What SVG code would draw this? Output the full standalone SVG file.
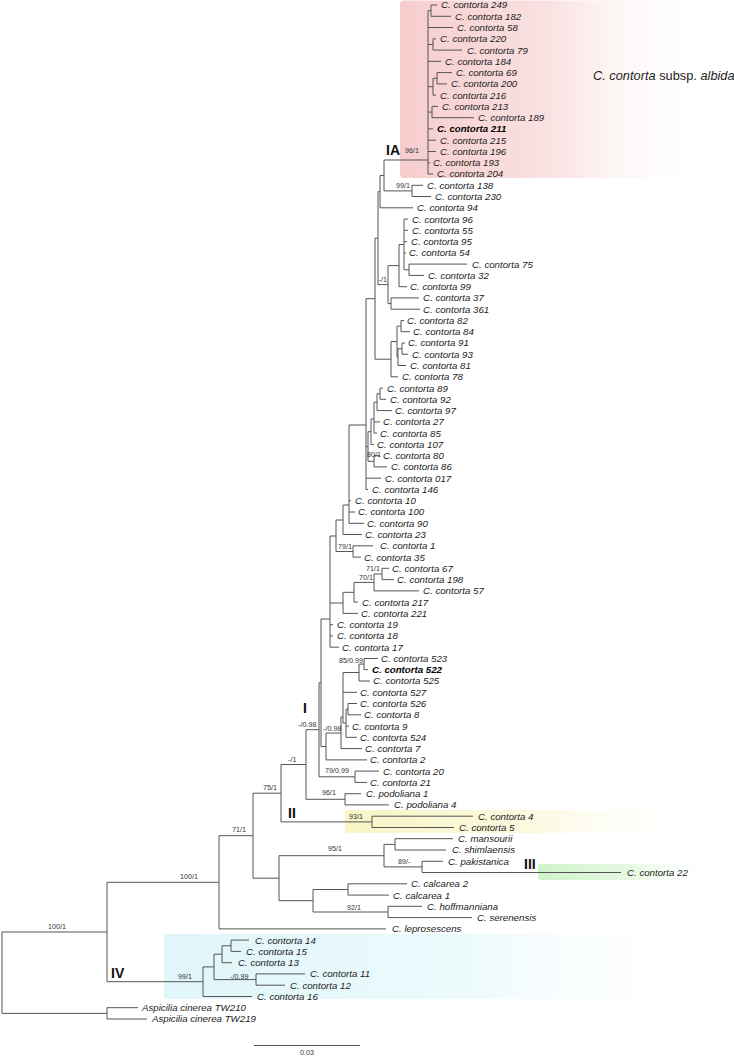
<svg xmlns="http://www.w3.org/2000/svg" width="734" height="1056" viewBox="0 0 734 1056">
<defs>
<linearGradient id="gPink" x1="0" y1="0" x2="1" y2="0"><stop offset="0" stop-color="#f6cdcd"/><stop offset="0.5" stop-color="#fae2e2"/><stop offset="1" stop-color="#ffffff" stop-opacity="0"/></linearGradient>
<linearGradient id="gYellow" x1="0" y1="0" x2="1" y2="0"><stop offset="0" stop-color="#f8f5c6"/><stop offset="0.5" stop-color="#fbf9df"/><stop offset="1" stop-color="#ffffff" stop-opacity="0"/></linearGradient>
<linearGradient id="gGreen" x1="0" y1="0" x2="1" y2="0"><stop offset="0" stop-color="#cff3ca"/><stop offset="0.5" stop-color="#e4f8e1"/><stop offset="1" stop-color="#ffffff" stop-opacity="0"/></linearGradient>
<linearGradient id="gCyan" x1="0" y1="0" x2="1" y2="0"><stop offset="0" stop-color="#e0f6fa"/><stop offset="0.55" stop-color="#ecfafc"/><stop offset="1" stop-color="#ffffff" stop-opacity="0"/></linearGradient>
<style>
.t{font-family:"Liberation Sans",Arial,sans-serif;font-style:italic;font-size:9.7px;fill:#222}
.b{font-weight:bold;fill:#000}
.s{font-family:"Liberation Sans",Arial,sans-serif;font-size:7.2px;fill:#333}
.c{font-family:"Liberation Sans",Arial,sans-serif;font-weight:bold;font-size:14px;fill:#111}
.br{fill:none;stroke:#555;stroke-width:1}
</style>
</defs>
<rect width="734" height="1056" fill="#fff"/>
<g id="highlights">
<rect id="box-IA" x="400" y="0.5" width="305" height="177.5" rx="4" fill="url(#gPink)"/>
<rect id="box-II" x="345" y="810" width="365" height="23" rx="3" fill="url(#gYellow)"/>
<rect id="box-III" x="538" y="864" width="175" height="16" rx="3" fill="url(#gGreen)"/>
<rect id="box-IV" x="164" y="934" width="546" height="65" rx="3" fill="url(#gCyan)"/>
</g>
<g id="connectors" class="br">
<path d="M2 932V1013.4M2 932H107M2 1013.4H107"/>
<path d="M107 1007.7V1019M107 1007.7H138M107 1019H147"/>
<path d="M107 882.3V981.7M107 882.3H219M107 981.7H203"/>
<path d="M203 966.9V996.5M203 966.9H214M203 996.5H252"/>
<path d="M214 954.2V979.6M214 954.2H222M214 979.6H256"/>
<path d="M222 945.8V962.7M222 945.8H231M222 962.7H232"/>
<path d="M231 940.1V951.4M231 940.1H249M231 951.4H241"/>
<path d="M256 973.9V985.2M256 973.9H305M256 985.2H285"/>
<path d="M219 835.7V928.9M219 835.7H253M219 928.9H386"/>
<path d="M253 793.2V878.2M253 793.2H281M253 878.2H279"/>
<path d="M279 855.7V900.7M279 855.7H384M279 900.7H313"/>
<path d="M313 889.5V912M313 889.5H348M313 912H388"/>
<path d="M348 883.8V895.1M348 883.8H407M348 895.1H389"/>
<path d="M388 906.3V917.6M388 906.3H422M388 917.6H472"/>
<path d="M384 844.4V866.9M384 844.4H395M384 866.9H422"/>
<path d="M395 838.7V850M395 838.7H453M395 850H446"/>
<path d="M422 861.3V872.5M422 861.3H443M422 872.5H621"/>
<path d="M281 764.5V821.9M281 764.5H306M281 821.9H372"/>
<path d="M372 816.2V827.5M372 816.2H473M372 827.5H454"/>
<path d="M306 729.7V799.3M306 729.7H319M306 799.3H345"/>
<path d="M345 793.7V804.9M345 793.7H361M345 804.9H389"/>
<path d="M319 682.7V776.8M319 682.7H321M319 776.8H355"/>
<path d="M355 771.1V782.4M355 771.1H379M355 782.4H367"/>
<path d="M321 619V746.5M321 619H330M321 746.5H326"/>
<path d="M326 733V759.9M326 733H341M326 759.9H367"/>
<path d="M341 717V748.6M341 717H343M341 748.6H362"/>
<path d="M343 672.5V723M343 672.5H359M343 692.3H357M343 723H346"/>
<path d="M346 709.2V737.3M346 709.2H348M346 726.1H349M346 737.3H357"/>
<path d="M348 703.5V714.8M348 703.5H357M348 714.8H361"/>
<path d="M359 664.1V681M359 664.1H364M359 681H370"/>
<path d="M364 658.5V669.7M364 658.5H378M364 669.7H368"/>
<path d="M330 536V647.2M330 536H336M330 603H343M330 624.7H333M330 635.9H333M330 647.2H339"/>
<path d="M343 592.3V613.4M343 592.3H354M343 613.4H358"/>
<path d="M354 582.4V602.1M354 582.4H374M354 602.1H358"/>
<path d="M374 574V590.9M374 574H382M374 590.9H419"/>
<path d="M382 568.3V579.6M382 568.3H389M382 579.6H394"/>
<path d="M336 520V551.5M336 520H343M336 551.5H353"/>
<path d="M353 545.8V557.1M353 545.8H373M353 557.1H361"/>
<path d="M343 505V534.5M343 505H349M343 534.5H362"/>
<path d="M349 425V523.3M349 425H366M349 500.7H351M349 512H355M349 523.3H364"/>
<path d="M366 298.7V489.5M366 298.7H375M366 446.5H368M366 478.2H381M366 489.5H368"/>
<path d="M368 431.7V461.3M368 431.7H371M368 461.3H374"/>
<path d="M371 419V444.4M371 419H374M371 444.4H374"/>
<path d="M374 402.2V433.1M374 402.2H377M374 421.9H380M374 433.1H377"/>
<path d="M377 393.7V410.6M377 393.7H380M377 410.6H392"/>
<path d="M380 388.1V399.3M380 388.1H383M380 399.3H386"/>
<path d="M374 455.7V466.9M374 455.7H380M374 466.9H387"/>
<path d="M375 238.2V359.2M375 238.2H378M375 359.2H391"/>
<path d="M391 341.6V376.8M391 341.6H397M391 376.8H398"/>
<path d="M397 326.1V357.1M397 326.1H401M397 357.1H398"/>
<path d="M401 320.5V331.7M401 320.5H404M401 331.7H410"/>
<path d="M398 348.7V365.5M398 348.7H402M398 365.5H406"/>
<path d="M402 343V354.3M402 343H405M402 354.3H408"/>
<path d="M378 191.7V284.6M378 191.7H380M378 284.6H388"/>
<path d="M388 265.6V303.6M388 265.6H399M388 303.6H391"/>
<path d="M391 297.9V309.2M391 297.9H419M391 309.2H420"/>
<path d="M399 244.5V286.7M399 244.5H404M399 286.7H407"/>
<path d="M404 219.1V269.8M404 219.1H408M404 230.3H408M404 241.6H407M404 252.9H406M404 269.8H409"/>
<path d="M409 264.1V275.4M409 264.1H467M409 275.4H424"/>
<path d="M380 175.5V207.8M380 175.5H384M380 207.8H413"/>
<path d="M384 160V190.9M384 160H428M384 190.9H412"/>
<path d="M412 185.3V196.5M412 185.3H423M412 196.5H431"/>
<path d="M428 10.7V174M428 10.7H431M428 27.5H453M428 44.5H433M428 61.3H441M428 86.7H433M428 112.1H432M428 128.9H433M428 140.2H436M428 151.5H436M428 162.7H430M428 174H433"/>
<path d="M431 5V16.3M431 5H437M431 16.3H451"/>
<path d="M433 38.8V50.1M433 38.8H436M433 50.1H462"/>
<path d="M433 78.3V95.1M433 78.3H437M433 95.1H436"/>
<path d="M437 72.6V83.9M437 72.6H452M437 83.9H447"/>
<path d="M432 106.4V117.7M432 106.4H438M432 117.7H474"/>
<path id="scalebar" d="M254 1045.5H360"/>
</g>
<g id="leaves">
<g id="n249"><text class="t" x="441" y="8.4">C. contorta 249</text></g>
<g id="n182"><text class="t" x="455" y="19.7">C. contorta 182</text></g>
<g id="n58"><text class="t" x="457" y="30.9">C. contorta 58</text></g>
<g id="n220"><text class="t" x="440" y="42.2">C. contorta 220</text></g>
<g id="n79"><text class="t" x="467" y="53.5">C. contorta 79</text></g>
<g id="n184"><text class="t" x="445" y="64.7">C. contorta 184</text></g>
<g id="n69"><text class="t" x="456" y="76">C. contorta 69</text></g>
<g id="n200"><text class="t" x="451" y="87.3">C. contorta 200</text></g>
<g id="n216"><text class="t" x="440" y="98.5">C. contorta 216</text></g>
<g id="n213"><text class="t" x="442" y="109.8">C. contorta 213</text></g>
<g id="n189"><text class="t" x="478" y="121.1">C. contorta 189</text></g>
<g id="n211"><text class="t b" x="437" y="132.3">C. contorta 211</text></g>
<g id="n215"><text class="t" x="440" y="143.6">C. contorta 215</text></g>
<g id="n196"><text class="t" x="440" y="154.9">C. contorta 196</text></g>
<g id="n193"><text class="t" x="433" y="166.1">C. contorta 193</text></g>
<g id="n204"><text class="t" x="437" y="177.4">C. contorta 204</text></g>
<g id="n138"><text class="t" x="427" y="188.7">C. contorta 138</text></g>
<g id="n230"><text class="t" x="435" y="199.9">C. contorta 230</text></g>
<g id="n94"><text class="t" x="417" y="211.2">C. contorta 94</text></g>
<g id="n96"><text class="t" x="412" y="222.5">C. contorta 96</text></g>
<g id="n55"><text class="t" x="412" y="233.7">C. contorta 55</text></g>
<g id="n95"><text class="t" x="411" y="245">C. contorta 95</text></g>
<g id="n54"><text class="t" x="409" y="256.3">C. contorta 54</text></g>
<g id="n75"><text class="t" x="472" y="267.5">C. contorta 75</text></g>
<g id="n32"><text class="t" x="428" y="278.8">C. contorta 32</text></g>
<g id="n99"><text class="t" x="410" y="290.1">C. contorta 99</text></g>
<g id="n37"><text class="t" x="423" y="301.3">C. contorta 37</text></g>
<g id="n361"><text class="t" x="423" y="312.6">C. contorta 361</text></g>
<g id="n82"><text class="t" x="407" y="323.9">C. contorta 82</text></g>
<g id="n84"><text class="t" x="413" y="335.1">C. contorta 84</text></g>
<g id="n91"><text class="t" x="408" y="346.4">C. contorta 91</text></g>
<g id="n93"><text class="t" x="412" y="357.7">C. contorta 93</text></g>
<g id="n81"><text class="t" x="410" y="368.9">C. contorta 81</text></g>
<g id="n78"><text class="t" x="402" y="380.2">C. contorta 78</text></g>
<g id="n89"><text class="t" x="387" y="391.5">C. contorta 89</text></g>
<g id="n92"><text class="t" x="390" y="402.7">C. contorta 92</text></g>
<g id="n97"><text class="t" x="395" y="414">C. contorta 97</text></g>
<g id="n27"><text class="t" x="383" y="425.3">C. contorta 27</text></g>
<g id="n85"><text class="t" x="380" y="436.5">C. contorta 85</text></g>
<g id="n107"><text class="t" x="377" y="447.8">C. contorta 107</text></g>
<g id="n80"><text class="t" x="383" y="459.1">C. contorta 80</text></g>
<g id="n86"><text class="t" x="391" y="470.3">C. contorta 86</text></g>
<g id="n017"><text class="t" x="385" y="481.6">C. contorta 017</text></g>
<g id="n146"><text class="t" x="372" y="492.9">C. contorta 146</text></g>
<g id="n10"><text class="t" x="355" y="504.1">C. contorta 10</text></g>
<g id="n100"><text class="t" x="358" y="515.4">C. contorta 100</text></g>
<g id="n90"><text class="t" x="367" y="526.7">C. contorta 90</text></g>
<g id="n23"><text class="t" x="365" y="537.9">C. contorta 23</text></g>
<g id="n1"><text class="t" x="380" y="549.2">C. contorta 1</text></g>
<g id="n35"><text class="t" x="364" y="560.5">C. contorta 35</text></g>
<g id="n67"><text class="t" x="392" y="571.7">C. contorta 67</text></g>
<g id="n198"><text class="t" x="397" y="583">C. contorta 198</text></g>
<g id="n57"><text class="t" x="423" y="594.3">C. contorta 57</text></g>
<g id="n217"><text class="t" x="362" y="605.5">C. contorta 217</text></g>
<g id="n221"><text class="t" x="361" y="616.8">C. contorta 221</text></g>
<g id="n19"><text class="t" x="337" y="628.1">C. contorta 19</text></g>
<g id="n18"><text class="t" x="337" y="639.3">C. contorta 18</text></g>
<g id="n17"><text class="t" x="342" y="650.6">C. contorta 17</text></g>
<g id="n523"><text class="t" x="381" y="661.9">C. contorta 523</text></g>
<g id="n522"><text class="t b" x="372" y="673.1">C. contorta 522</text></g>
<g id="n525"><text class="t" x="373" y="684.4">C. contorta 525</text></g>
<g id="n527"><text class="t" x="360" y="695.7">C. contorta 527</text></g>
<g id="n526"><text class="t" x="360" y="706.9">C. contorta 526</text></g>
<g id="n8"><text class="t" x="364" y="718.2">C. contorta 8</text></g>
<g id="n9"><text class="t" x="352" y="729.5">C. contorta 9</text></g>
<g id="n524"><text class="t" x="360" y="740.7">C. contorta 524</text></g>
<g id="n7"><text class="t" x="365" y="752">C. contorta 7</text></g>
<g id="n2"><text class="t" x="370" y="763.3">C. contorta 2</text></g>
<g id="n20"><text class="t" x="383" y="774.5">C. contorta 20</text></g>
<g id="n21"><text class="t" x="370" y="785.8">C. contorta 21</text></g>
<g id="pod1"><text class="t" x="366" y="797.1">C. podoliana 1</text></g>
<g id="pod4"><text class="t" x="394" y="808.3">C. podoliana 4</text></g>
<g id="n4"><text class="t" x="478" y="819.6">C. contorta 4</text></g>
<g id="n5"><text class="t" x="459" y="830.9">C. contorta 5</text></g>
<g id="mans"><text class="t" x="458" y="842.1">C. mansourii</text></g>
<g id="shim"><text class="t" x="452" y="853.4">C. shimlaensis</text></g>
<g id="paki"><text class="t" x="448" y="864.7">C. pakistanica</text></g>
<g id="n22"><text class="t" x="627" y="875.9">C. contorta 22</text></g>
<g id="calc2"><text class="t" x="411" y="887.2">C. calcarea 2</text></g>
<g id="calc1"><text class="t" x="393" y="898.5">C. calcarea 1</text></g>
<g id="hoff"><text class="t" x="427" y="909.7">C. hoffmanniana</text></g>
<g id="sere"><text class="t" x="477" y="921">C. serenensis</text></g>
<g id="lepr"><text class="t" x="392" y="932.3">C. leprosescens</text></g>
<g id="n14"><text class="t" x="255" y="943.5">C. contorta 14</text></g>
<g id="n15"><text class="t" x="246" y="954.8">C. contorta 15</text></g>
<g id="n13"><text class="t" x="238" y="966.1">C. contorta 13</text></g>
<g id="n11"><text class="t" x="310" y="977.3">C. contorta 11</text></g>
<g id="n12"><text class="t" x="290" y="988.6">C. contorta 12</text></g>
<g id="n16"><text class="t" x="257" y="999.9">C. contorta 16</text></g>
<g id="tw210"><text class="t" x="142" y="1011.1">Aspicilia cinerea TW210</text></g>
<g id="tw219"><text class="t" x="152" y="1022.4">Aspicilia cinerea TW219</text></g>
</g>
<g id="supports">
<text class="s" x="405" y="153">96/1</text>
<text class="s" x="410" y="188" text-anchor="end">99/1</text>
<text class="s" x="387" y="282" text-anchor="end">-/1</text>
<text class="s" x="381" y="457" text-anchor="end">80/1</text>
<text class="s" x="338" y="549">79/1</text>
<text class="s" x="380" y="571" text-anchor="end">71/1</text>
<text class="s" x="373" y="580" text-anchor="end">70/1</text>
<text class="s" x="339" y="663">85/0.99</text>
<text class="s" x="298" y="727">-/0.98</text>
<text class="s" x="323" y="731">-/0.98</text>
<text class="s" x="325" y="773">79/0.99</text>
<text class="s" x="322" y="795">96/1</text>
<text class="s" x="288" y="762">-/1</text>
<text class="s" x="263" y="790">75/1</text>
<text class="s" x="349" y="819">93/1</text>
<text class="s" x="232" y="832">71/1</text>
<text class="s" x="328" y="851">95/1</text>
<text class="s" x="398" y="864">89/-</text>
<text class="s" x="347" y="910">92/1</text>
<text class="s" x="180" y="879">100/1</text>
<text class="s" x="178" y="979">99/1</text>
<text class="s" x="230" y="979">-/0.99</text>
<text class="s" x="48" y="929">100/1</text>
<text class="s" x="307" y="1055" text-anchor="middle">0.03</text>
</g>
<g id="clades">
<text class="c" x="386" y="155">IA</text>
<text class="c" x="303" y="713">I</text>
<text class="c" x="288" y="818">II</text>
<text class="c" x="524" y="869">III</text>
<text class="c" x="111" y="978">IV</text>
<text x="593" y="79.5" font-family="Liberation Sans, Arial, sans-serif" font-size="12.8" fill="#222"><tspan font-style="italic">C. contorta</tspan> subsp. <tspan font-style="italic">albida</tspan></text>
</g>
</svg>
